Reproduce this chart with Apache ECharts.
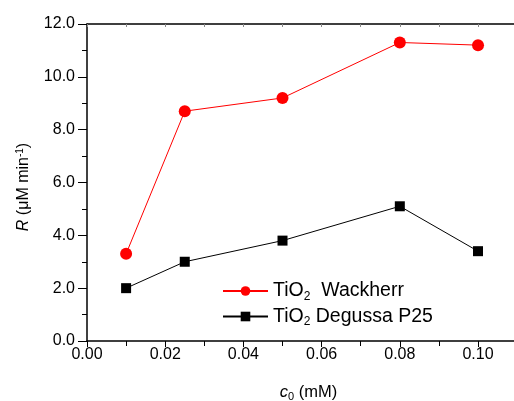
<!DOCTYPE html>
<html>
<head>
<meta charset="utf-8">
<script src="https://cdn.jsdelivr.net/npm/echarts@6/dist/echarts.min.js"></script>
<style>
html,body{margin:0;padding:0;background:#fff;}
#chart{width:514px;height:401px;}
</style>
</head>
<body>
<div id="chart"></div>
<script>
var xValues = [0.01, 0.025, 0.05, 0.08, 0.10];
var wackherr = [3.3, 8.7, 9.2, 11.3, 11.2];
var degussa = [2.0, 3.0, 3.8, 5.1, 3.4];
var seriesNames = ['TiO2 Wackherr', 'TiO2 Degussa P25'];

function pairs(xs, ys) { return xs.map(function (x, i) { return [x, ys[i]]; }); }

var font = 'Liberation Sans, Arial, sans-serif';
var chart = echarts.init(document.getElementById('chart'));
chart.setOption({
  animation: false,
  backgroundColor: '#fff',
  grid: { left: 87, top: 24, right: 0, bottom: 60, containLabel: false, outerBoundsMode: 'none' },
  xAxis: [{
    type: 'value', min: 0, max: 0.1092, interval: 0.02,
    position: 'bottom',
    axisLine: { lineStyle: { color: '#000', width: 1.5 } },
    axisTick: { show: true, length: 6, inside: false, lineStyle: { color: '#000' } },
    minorTick: { show: true, splitNumber: 2, length: 5, lineStyle: { color: '#000' } },
    splitLine: { show: false },
    axisLabel: { color: '#000', fontSize: 16, fontFamily: font, margin: 6,
      showMaxLabel: false,
      formatter: function (v) { return v > 0.105 ? '' : v.toFixed(2); } },
    name: '{i|c}{s|0}{n| (mM)}',
    nameLocation: 'middle', nameGap: 41,
    nameTextStyle: { color: '#000', fontSize: 16.5, fontFamily: font, padding: [0, 0, 0, 16],
      rich: {
        i: { fontStyle: 'italic', fontSize: 16.5, fontFamily: font, color: '#000' },
        s: { fontSize: 11, fontFamily: font, color: '#000', padding: [9, 0, 0, 0] },
        n: { fontSize: 16.5, fontFamily: font, color: '#000' }
      } }
  }, {
    type: 'value', min: 0, max: 0.1092, interval: 0.01,
    position: 'top',
    axisLine: { show: true, lineStyle: { color: '#000', width: 1.5 } },
    axisTick: { show: true, inside: true, length: 3, lineStyle: { color: '#888' } },
    axisLabel: { show: false },
    splitLine: { show: false }
  }],
  yAxis: [{
    type: 'value', min: 0, max: 12, interval: 2,
    axisLine: { show: true, lineStyle: { color: '#000', width: 1.5 } },
    axisTick: { show: true, length: 9, lineStyle: { color: '#000' } },
    minorTick: { show: true, splitNumber: 2, length: 5, lineStyle: { color: '#000' } },
    splitLine: { show: false },
    axisLabel: { color: '#000', fontSize: 16, fontFamily: font, margin: 12,
      formatter: function (v) { return v.toFixed(1); } },
    name: '{i|R}{n| (μM min}{s|-1}{n|)}',
    nameLocation: 'middle', nameGap: 54, nameRotate: 90,
    nameTextStyle: { color: '#000', fontSize: 16, fontFamily: font, padding: [0, 9, 0, 0],
      rich: {
        i: { fontStyle: 'italic', fontSize: 16, fontFamily: font, color: '#000' },
        s: { fontSize: 10, fontFamily: font, color: '#000', padding: [0, 0, 8, 0] },
        n: { fontSize: 16, fontFamily: font, color: '#000' }
      } }
  }],
  legend: {
    orient: 'vertical', left: 222, top: 281, itemGap: 4, padding: 0,
    itemWidth: 45, itemHeight: 12,
    data: seriesNames,
    formatter: function (name) {
      if (name === seriesNames[0]) return '{n|TiO}{s|2}{n|  Wackherr}';
      return '{n|TiO}{s|2}{n| Degussa P25}';
    },
    textStyle: { color: '#000', fontSize: 19.5, fontFamily: font,
      rich: {
        n: { fontSize: 19.5, fontFamily: font, color: '#000' },
        s: { fontSize: 12, fontFamily: font, color: '#000', padding: [11, 0, 0, 0] }
      } }
  },
  series: [{
    name: seriesNames[0], type: 'line', data: pairs(xValues, wackherr),
    symbol: 'circle', symbolSize: 12,
    itemStyle: { color: '#ff0000' },
    lineStyle: { color: '#ff0000', width: 1 }
  }, {
    name: seriesNames[1], type: 'line', data: pairs(xValues, degussa),
    symbol: 'rect', symbolSize: 10,
    itemStyle: { color: '#000' },
    lineStyle: { color: '#000', width: 1 }
  }]
});
</script>
</body>
</html>
